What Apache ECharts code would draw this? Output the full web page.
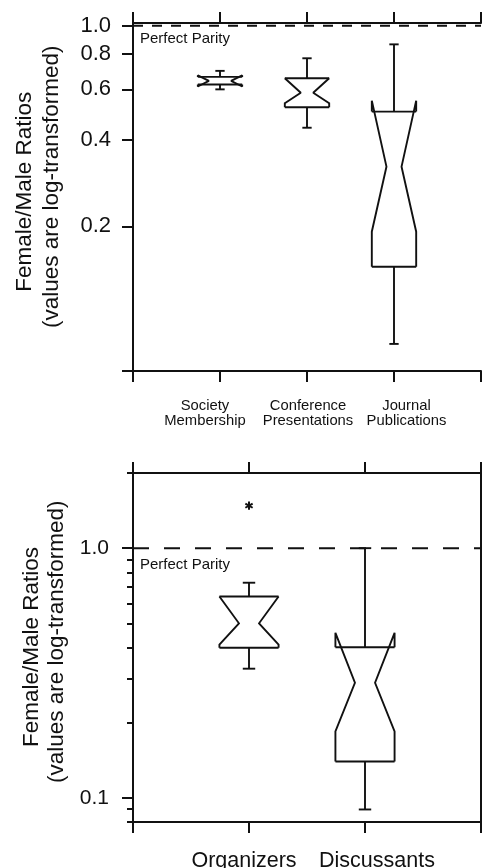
<!DOCTYPE html>
<html>
<head>
<meta charset="utf-8">
<script src="https://cdn.jsdelivr.net/npm/echarts@6/dist/echarts.min.js"></script>
<style>
  html, body { margin: 0; padding: 0; background: #ffffff; }
  #chart { width: 482px; height: 868px; }
</style>
</head>
<body>
<div id="chart"></div>
<script>
// ---- Panel A: representation across society, conferences and journals ----
const topCategories = [['Society', 'Membership'], ['Conference', 'Presentations'], ['Journal', 'Publications']];
const topWhiskerLow  = [0.600, 0.441, 0.0778];
const topQ1          = [0.624, 0.520, 0.1446];
const topNotchLow    = [0.614, 0.537, 0.1915];
const topMedian      = [0.642, 0.584, 0.3227];
const topNotchHigh   = [0.671, 0.656, 0.548];
const topQ3          = [0.663, 0.656, 0.502];
const topWhiskerHigh = [0.696, 0.770, 0.861];
const topTickValues  = [0.2, 0.4, 0.6, 0.8, 1.0];

// ---- Panel B: meeting organizers and discussants ----
const bottomCategories = [['Organizers'], ['Discussants']];
const bottomWhiskerLow  = [0.329, 0.0898];
const bottomQ1          = [0.399, 0.1398];
const bottomNotchLow    = [0.411, 0.1843];
const bottomMedian      = [0.500, 0.289];
const bottomNotchHigh   = [0.640, 0.458];
const bottomQ3          = [0.640, 0.401];
const bottomWhiskerHigh = [0.727, 1.0];
const bottomOutliers    = [[1, 1.48]];
const bottomTickValues  = [0.1, 1.0];
const bottomMinorValues = [0.08, 0.09, 0.2, 0.3, 0.4, 0.5, 0.6, 0.7, 0.8, 0.9, 2];

const parityValue = 1.0;
const yTitleLines = ['Female/Male Ratios', '(values are log-transformed)'];

// ---- drawing style ----
const FONT = "'Liberation Sans', Arial, Helvetica, sans-serif";
const INK = '#111111';
const BOX_FRACTION = 0.51;   // box width as share of category spacing
const CAP_FRACTION = 0.21;   // whisker cap as share of box width
const topIndent = [0.25, 0.36, 0.33];     // notch depth per box (share of box width)
const bottomIndent = [0.33, 0.33];
const topLabelShift = [-15, 1, 12.5];     // horizontal nudge of category captions (px)
const bottomLabelShift = [-5, 12];

const TOP_MIN = 0.0626, TOP_MAX = 1.022;
const BOT_MIN = 0.08, BOT_MAX = 2.0;

function boxRows(wl, q1, nl, md, nh, q3, wh) {
  return md.map((_, i) => [i + 1, wl[i], q1[i], nl[i], md[i], nh[i], q3[i], wh[i]]);
}

function notchedBoxRenderer(indents) {
  return function (params, api) {
    const x = api.value(0);
    const y = idx => api.coord([x, api.value(idx)])[1];
    const cx = api.coord([x, api.value(4)])[0];
    const band = api.coord([x + 0.5, api.value(4)])[0] - api.coord([x - 0.5, api.value(4)])[0];
    const w = band * BOX_FRACTION;
    const L = cx - w / 2, R = cx + w / 2;
    const wl = y(1), q1 = y(2), nl = y(3), md = y(4), nh = y(5), q3 = y(6), wh = y(7);
    const ind = w * indents[params.dataIndex];
    const cap = w * CAP_FRACTION / 2;
    const st = { stroke: INK, lineWidth: 1.9, fill: null, lineJoin: 'miter', miterLimit: 1.6 };
    const line = (x1, y1, x2, y2) => ({ type: 'line', shape: { x1, y1, x2, y2 }, style: st });
    return {
      type: 'group',
      children: [
        { type: 'polyline', shape: { points: [[L, q1], [L, nl], [L + ind, md], [L, nh], [L, q3]] }, style: st },
        { type: 'polyline', shape: { points: [[R, q1], [R, nl], [R - ind, md], [R, nh], [R, q3]] }, style: st },
        line(L, q3, R, q3),
        line(L, q1, R, q1),
        line(cx, q3, cx, wh),
        line(cx, q1, cx, wl),
        line(cx - cap, wh, cx + cap, wh),
        line(cx - cap, wl, cx + cap, wl)
      ]
    };
  };
}

function asteriskRenderer(params, api) {
  const p = api.coord([api.value(0), api.value(1)]);
  const r = 4.2;
  const st = { stroke: INK, lineWidth: 2 };
  const spokes = [90, 30, -30].map(deg => {
    const a = deg * Math.PI / 180;
    return { type: 'line', shape: { x1: p[0] - r * Math.cos(a), y1: p[1] - r * Math.sin(a), x2: p[0] + r * Math.cos(a), y2: p[1] + r * Math.sin(a) }, style: st };
  });
  return { type: 'group', children: spokes };
}

const axisLineStyle = { color: INK, width: 2 };

function categoryRich(cats, shifts, fontSize, lineHeight) {
  const rich = {};
  cats.forEach((_, i) => {
    const s = shifts[i] * 2;
    rich['c' + i] = {
      fontFamily: FONT, fontSize, lineHeight, color: INK,
      padding: s >= 0 ? [0, 0, 0, s] : [0, -s, 0, 0]
    };
  });
  return rich;
}

function xAxes(gridIndex, cats, shifts, labelSize, labelLineHeight, margin) {
  const n = cats.length + 1;
  return [
    {
      gridIndex, type: 'value', position: 'bottom', min: 0, max: n, interval: 1,
      axisLine: { show: true, lineStyle: axisLineStyle },
      axisTick: { show: true, inside: false, length: 11, lineStyle: axisLineStyle },
      axisLabel: {
        show: true, margin, fontFamily: FONT, fontSize: labelSize, lineHeight: labelLineHeight,
        color: INK, align: 'center',
        formatter: v => {
          if (!(v >= 1 && v <= cats.length && Number.isInteger(v))) return '';
          const key = 'c' + (v - 1);
          return cats[v - 1].map(t => '{' + key + '|' + t + '}').join('\n');
        },
        rich: categoryRich(cats, shifts, labelSize, labelLineHeight)
      },
      splitLine: { show: false }
    },
    {
      gridIndex, type: 'value', position: 'top', min: 0, max: n, interval: 1,
      axisLine: { show: true, lineStyle: axisLineStyle },
      axisTick: { show: true, inside: false, length: 11, lineStyle: axisLineStyle },
      axisLabel: { show: false },
      splitLine: { show: false }
    }
  ];
}

const chart = echarts.init(document.getElementById('chart'), null, { renderer: 'canvas' });

const option = {
  backgroundColor: '#ffffff',
  animation: false,
  grid: [
    { left: 133, top: 23, width: 348, height: 348, outerBoundsMode: 'none', containLabel: false },
    { left: 133, top: 473, width: 348, height: 349, outerBoundsMode: 'none', containLabel: false }
  ],
  xAxis: [
    ...xAxes(0, topCategories, topLabelShift, 14.8, 15, 27),
    ...xAxes(1, bottomCategories, bottomLabelShift, 21.5, 22, 28)
  ],
  yAxis: [
    {
      gridIndex: 0, type: 'log', logBase: 10, min: TOP_MIN, max: TOP_MAX, position: 'left',
      axisLine: { show: true, lineStyle: axisLineStyle },
      axisTick: { show: true, inside: false, length: 11, lineStyle: axisLineStyle, customValues: [TOP_MIN, ...topTickValues] },
      axisLabel: { show: true, margin: 22, fontFamily: FONT, fontSize: 22, color: INK, customValues: topTickValues, formatter: v => Number(v).toFixed(1) },
      splitLine: { show: false }
    },
    {
      gridIndex: 0, type: 'log', logBase: 10, min: TOP_MIN, max: TOP_MAX, position: 'right',
      axisLine: { show: true, lineStyle: axisLineStyle },
      axisTick: { show: false }, axisLabel: { show: false }, splitLine: { show: false }
    },
    {
      gridIndex: 1, type: 'log', logBase: 10, min: BOT_MIN, max: BOT_MAX, position: 'left',
      axisLine: { show: true, lineStyle: axisLineStyle },
      axisTick: { show: true, inside: false, length: 11, lineStyle: axisLineStyle, customValues: bottomTickValues },
      axisLabel: { show: true, margin: 24, fontFamily: FONT, fontSize: 21, color: INK, customValues: bottomTickValues, formatter: v => Number(v).toFixed(1) },
      splitLine: { show: false }
    },
    {
      gridIndex: 1, type: 'log', logBase: 10, min: BOT_MIN, max: BOT_MAX, position: 'left',
      axisLine: { show: false },
      axisTick: { show: true, inside: false, length: 6, lineStyle: axisLineStyle, customValues: bottomMinorValues },
      axisLabel: { show: false }, splitLine: { show: false }
    },
    {
      gridIndex: 1, type: 'log', logBase: 10, min: BOT_MIN, max: BOT_MAX, position: 'right',
      axisLine: { show: true, lineStyle: axisLineStyle },
      axisTick: { show: false }, axisLabel: { show: false }, splitLine: { show: false }
    }
  ],
  series: [
    {
      type: 'line', xAxisIndex: 0, yAxisIndex: 0, symbol: 'none', silent: true,
      data: [[0, parityValue], [topCategories.length + 1, parityValue]],
      lineStyle: { color: INK, width: 2, type: [10, 9] }, z: 1
    },
    {
      type: 'custom', xAxisIndex: 0, yAxisIndex: 0,
      renderItem: notchedBoxRenderer(topIndent),
      data: boxRows(topWhiskerLow, topQ1, topNotchLow, topMedian, topNotchHigh, topQ3, topWhiskerHigh),
      z: 3
    },
    {
      type: 'line', xAxisIndex: 2, yAxisIndex: 2, symbol: 'none', silent: true,
      data: [[0, parityValue], [bottomCategories.length + 1, parityValue]],
      lineStyle: { color: INK, width: 2, type: [16, 15] }, z: 1
    },
    {
      type: 'custom', xAxisIndex: 2, yAxisIndex: 2,
      renderItem: notchedBoxRenderer(bottomIndent),
      data: boxRows(bottomWhiskerLow, bottomQ1, bottomNotchLow, bottomMedian, bottomNotchHigh, bottomQ3, bottomWhiskerHigh),
      z: 3
    },
    {
      type: 'custom', xAxisIndex: 2, yAxisIndex: 2,
      renderItem: asteriskRenderer,
      data: bottomOutliers,
      z: 3
    }
  ]
};

chart.setOption(option);

// Captions anchored to the parity line, plus the rotated two-line y-axis titles
const topParity = chart.convertToPixel({ xAxisIndex: 0, yAxisIndex: 0 }, [0, parityValue]);
const botParity = chart.convertToPixel({ xAxisIndex: 2, yAxisIndex: 2 }, [0, parityValue]);

function rotatedTitle(x, y, text) {
  return {
    type: 'text', x, y, rotation: Math.PI / 2,
    style: { text, font: '22.5px ' + FONT, fill: INK, align: 'center', verticalAlign: 'middle' }
  };
}

chart.setOption({
  graphic: [
    { type: 'text', left: topParity[0] + 7, top: topParity[1] + 6,
      style: { text: 'Perfect Parity', font: '15px ' + FONT, fill: INK } },
    { type: 'text', left: botParity[0] + 7, top: botParity[1] + 9,
      style: { text: 'Perfect Parity', font: '15px ' + FONT, fill: INK } },
    rotatedTitle(25, 191.7, yTitleLines[0]),
    rotatedTitle(51.3, 186.7, yTitleLines[1]),
    rotatedTitle(32, 647, yTitleLines[0]),
    rotatedTitle(57, 641.7, yTitleLines[1])
  ]
});
</script>
</body>
</html>
